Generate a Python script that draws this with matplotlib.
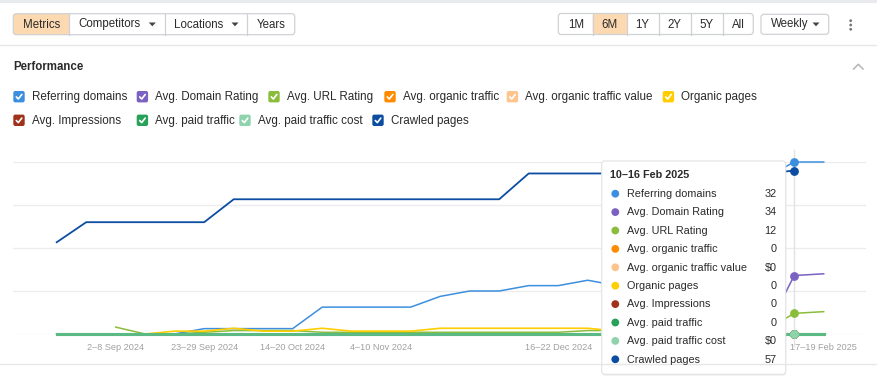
import numpy as np
import matplotlib
matplotlib.use("Agg")
import matplotlib.pyplot as plt
from matplotlib.patches import FancyBboxPatch, Rectangle, Circle, Polygon

plt.rcParams['font.family'] = ['Liberation Sans', 'DejaVu Sans']

nan = np.nan

# ---------------- data ----------------
weeks = ["19–25 Aug 2024", "26 Aug–1 Sep 2024", "2–8 Sep 2024", "9–15 Sep 2024",
         "16–22 Sep 2024", "23–29 Sep 2024", "30 Sep–6 Oct 2024", "7–13 Oct 2024",
         "14–20 Oct 2024", "21–27 Oct 2024", "28 Oct–3 Nov 2024", "4–10 Nov 2024",
         "11–17 Nov 2024", "18–24 Nov 2024", "25 Nov–1 Dec 2024", "2–8 Dec 2024",
         "9–15 Dec 2024", "16–22 Dec 2024", "23–29 Dec 2024", "30 Dec 2024–5 Jan 2025",
         "6–12 Jan 2025", "13–19 Jan 2025", "20–26 Jan 2025", "27 Jan–2 Feb 2025",
         "3–9 Feb 2025", "10–16 Feb 2025", "17–19 Feb 2025"]
shown_ticks = [2, 5, 8, 11, 17, 26]
hover_index = 25

referring_domains = [0, 0, 0, 0, 0, 1, 1, 1, 1, 5, 5, 5, 5, 7, 8, 8, 9, 9, 10, 9, 11, 13, 18, 24, 29, 32, 32]
domain_rating = [0, 0, 0, 0, 0, 0, 0, 0, 0, 0, 0, 0, 0, 0, 0, 0, 0, 0, 0, 0, 0, 0, 0, 0, 0, 34, 35]
url_rating = [nan, nan, 4, 0, 0, 1, 2, 2, 2, 1, 1, 1, 1, 1, 1, 1, 1, 1, 2, 2, 1, 1, 1, 2, 2, 12, 13]
organic_traffic = [0, 0, 0, 0, 0, 0, 0, 0, 0, 0, 0, 0, 0, 0, 0, 0, 0, 0, 0, 0, 0, 0, 0, 0, 0, 0, 0]
organic_traffic_value = [0, 0, 0, 0, 0, 0, 0, 0, 0, 0, 0, 0, 0, 0, 0, 0, 0, 0, 0, 0, 0, 0, 0, 0, 0, 0, 0]
organic_pages = [0, 0, 0, 0, 1, 1, 2, 1, 1, 2, 1, 1, 1, 2, 2, 2, 2, 2, 2, 1, 0, 0, 0, 0, 0, 0, 0]
impressions = [0, 0, 0, 0, 0, 0, 0, 0, 0, 0, 0, 0, 0, 0, 0, 0, 0, 0, 0, 0, 0, 0, 0, 0, 0, 0, 0]
paid_traffic = [0, 0, 0, 0, 0, 0, 0, 0, 0, 0, 0, 0, 0, 0, 0, 0, 0, 0, 0, 0, 0, 0, 0, 0, 0, 0, 0]
paid_traffic_cost = [0, 0, 0, 0, 0, 0, 0, 0, 0, 0, 0, 0, 0, 0, 0, 0, 0, 0, 0, 0, 0, 0, 0, 0, 0, 0, 0]
crawled_pages = [32, 39, 39, 39, 39, 39, 47, 47, 47, 47, 47, 47, 47, 47, 47, 47, 56, 56, 56, 56, 56, 56, 56, 56, 56, 57, nan]

series_names = ["Referring domains", "Avg. Domain Rating", "Avg. URL Rating",
                "Avg. organic traffic", "Avg. organic traffic value", "Organic pages",
                "Avg. Impressions", "Avg. paid traffic", "Avg. paid traffic cost", "Crawled pages"]
series_values = [referring_domains, domain_rating, url_rating, organic_traffic,
                 organic_traffic_value, organic_pages, impressions, paid_traffic,
                 paid_traffic_cost, crawled_pages]
series_axis_max = [32, 100, 100, 10, 10, 60, 10, 10, 10, 60]
series_money = [False, False, False, False, True, False, False, False, True, False]
series_colors = ["#3c8fde", "#7a61c2", "#8bbd3c", "#ff8c00", "#ffc48e", "#ffcd00",
                 "#a0321b", "#28a25b", "#8fd3ac", "#0c4da2"]

# ---------------- figure ----------------
W, H = 878, 377
fig = plt.figure(figsize=(W / 100, H / 100), dpi=100)
fig.patch.set_facecolor("white")

# chart area in pixels
cx0, cx1, cy_top, cy_bot = 13, 866, 162, 334
first_px, step_px = 56.7, 29.5
rect = [cx0 / W, (H - cy_bot) / H, (cx1 - cx0) / W, (cy_bot - cy_top) / H]

base = fig.add_axes(rect)
base.set_xlim(-(first_px - cx0) / step_px, (cx1 - first_px) / step_px)
base.set_ylim(0, 1)
base.set_yticks([0, 0.25, 0.5, 0.75, 1.0])
base.grid(axis='y', color="#ececec", lw=1.0)
base.tick_params(axis='y', left=False, labelleft=False)
base.set_xticks(shown_ticks)
base.set_xticklabels([weeks[i] for i in shown_ticks], fontsize=6.6, color="#a0a0a0")
base.tick_params(axis='x', length=0, pad=6.2)
for s in base.spines.values():
    s.set_visible(False)
base.set_axisbelow(True)
base.axvline(hover_index, ymin=-0.07, ymax=1.07, color="#e2e2e2", lw=1.0, clip_on=False)

x = np.arange(len(weeks))
lws = [1.1, 1.1, 1.1, 1.2, 1.2, 1.2, 1.2, 2.2, 2.2, 1.3]
alphas = [1, 1, 1, 1, 1, 1, 1, 1, 0.5, 1]
for name, vals, vmax, col, lw, al in zip(series_names, series_values, series_axis_max,
                                         series_colors, lws, alphas):
    a = fig.add_axes(rect, sharex=base, label=name)
    a.set_ylim(0, vmax)
    a.axis('off')
    a.patch.set_visible(False)
    a.plot(x, vals, color=col, lw=lw, alpha=al, clip_on=False, solid_joinstyle='round')
    v = vals[hover_index]
    if not np.isnan(v):
        a.plot([hover_index], [v], 'o', color=col, ms=5.3, mec=col, clip_on=False, zorder=5)

# ---------------- UI overlay ----------------
ui = fig.add_axes([0, 0, 1, 1], zorder=10)
ui.set_xlim(0, W)
ui.set_ylim(H, 0)
ui.axis('off')

TXT = "#2a2a2a"
BORDER = "#cfd1d4"
PEACH = "#fdd9b2"

ui.add_patch(Rectangle((0, 0), W, 3.3, fc="#e8eaed", ec="none"))
ui.plot([0, W], [45, 45], color="#e6e7e9", lw=1)
ui.plot([0, W], [364.3, 364.3], color="#e6e7e9", lw=1)


def button_group(x0, x1, y0, y1, dividers, active):
    ax0, ax1 = active
    ui.add_patch(FancyBboxPatch((ax0, y0), ax1 - ax0, y1 - y0,
                                boxstyle="round,pad=0,rounding_size=3", fc=PEACH, ec="none"))
    if ax0 > x0 + 1:
        ui.add_patch(Rectangle((ax0, y0), 5, y1 - y0, fc=PEACH, ec="none"))
    ui.add_patch(Rectangle((ax1 - 5, y0), 5, y1 - y0, fc=PEACH, ec="none"))
    ui.add_patch(FancyBboxPatch((x0, y0), x1 - x0, y1 - y0,
                                boxstyle="round,pad=0,rounding_size=3", fc="none", ec=BORDER, lw=0.9))
    for d in dividers:
        ui.plot([d, d], [y0, y1], color=BORDER, lw=0.9)


def tri(xc, yc):
    ui.add_patch(Polygon([(xc - 3.5, yc - 1.8), (xc + 3.5, yc - 1.8), (xc, yc + 2.0)],
                         closed=True, fc="#444444", ec="none"))


FS = 8.3
button_group(13.3, 294.7, 13.7, 34.7, [69, 164.7, 247.3], (13.3, 69))
ui.text(41.2, 24.5, "Metrics", fontsize=FS, color=TXT, ha='center', va='center')
ui.text(78, 24.5, "Competitors", fontsize=FS, color=TXT, ha='left', va='center')
tri(152.3, 24.3)
ui.text(173.7, 24.5, "Locations", fontsize=FS, color=TXT, ha='left', va='center')
tri(235, 24.3)
ui.text(271, 24.5, "Years", fontsize=FS, color=TXT, ha='center', va='center')

button_group(558.3, 753.3, 13.5, 34.5, [592.7, 626.7, 659, 691, 723], (592.7, 626.7))
for lbl, xc in zip(["1M", "6M", "1Y", "2Y", "5Y", "All"], [576, 610, 642.3, 674.3, 706.7, 738.7]):
    ui.text(xc, 24.5, lbl, fontsize=FS, color=TXT, ha='center', va='center')

ui.add_patch(FancyBboxPatch((761, 14.3), 67.7, 20, boxstyle="round,pad=0,rounding_size=3",
                            fc="white", ec=BORDER, lw=0.9))
ui.text(770.7, 24.5, "Weekly", fontsize=FS, color=TXT, ha='left', va='center')
tri(816, 24.3)
for yy in (20.7, 25, 29.3):
    ui.add_patch(Circle((850.7, yy), 1.4, fc="#777777", ec="none"))

ui.text(13.3, 67.5, "Performance", fontsize=8.3, fontweight='bold', color=TXT, ha='left', va='center')
ui.plot([853.6, 858.3, 863], [69, 64.3, 69], color="#b5b5b5", lw=1.1)

# legend with checkboxes
legend_pos = [(13.3, 96.7), (136.7, 96.7), (268.3, 96.7), (384.3, 96.7), (506.7, 96.7),
              (662.7, 96.7), (13.3, 120.3), (136.7, 120.3), (239.3, 120.3), (372.3, 120.3)]
for (lx, ly), name, col in zip(legend_pos, series_names, series_colors):
    s = 11.4
    ui.add_patch(FancyBboxPatch((lx, ly - s / 2), s, s, boxstyle="round,pad=0,rounding_size=2",
                                fc=col, ec="none"))
    ui.plot([lx + 3.0, lx + 5.0, lx + 8.5], [ly + 0.2, ly + 2.3, ly - 2.2], color="white", lw=1.2,
            solid_capstyle='round', solid_joinstyle='round')
    ui.text(lx + 18.4, ly + 0.3, name, fontsize=8.35, color=TXT, ha='left', va='center')

# tooltip
tx0, ty0, tw, th = 601.7, 161, 184, 213.3
ui.add_patch(FancyBboxPatch((tx0 + 0.5, ty0 + 1.5), tw, th, boxstyle="round,pad=0,rounding_size=3",
                            fc="black", ec="none", alpha=0.06))
ui.add_patch(FancyBboxPatch((tx0, ty0), tw, th, boxstyle="round,pad=0,rounding_size=3",
                            fc="white", ec="#e2e2e2", lw=0.8))
ui.text(610, 175.2, weeks[hover_index], fontsize=7.8, fontweight='bold', color=TXT,
        ha='left', va='center')
for k, (name, vals, col, money) in enumerate(zip(series_names, series_values, series_colors, series_money)):
    yy = 193.7 + 18.4 * k
    ui.add_patch(Circle((615.3, yy), 3.9, fc=col, ec="none"))
    ui.text(627, yy + 0.3, name, fontsize=7.8, color=TXT, ha='left', va='center')
    v = vals[hover_index]
    vtxt = ("$%d" % v) if money else ("%d" % v)
    ui.text(776.7, yy + 0.3, vtxt, fontsize=7.8, color=TXT, ha='right', va='center')

fig.savefig("out.png", dpi=100)
